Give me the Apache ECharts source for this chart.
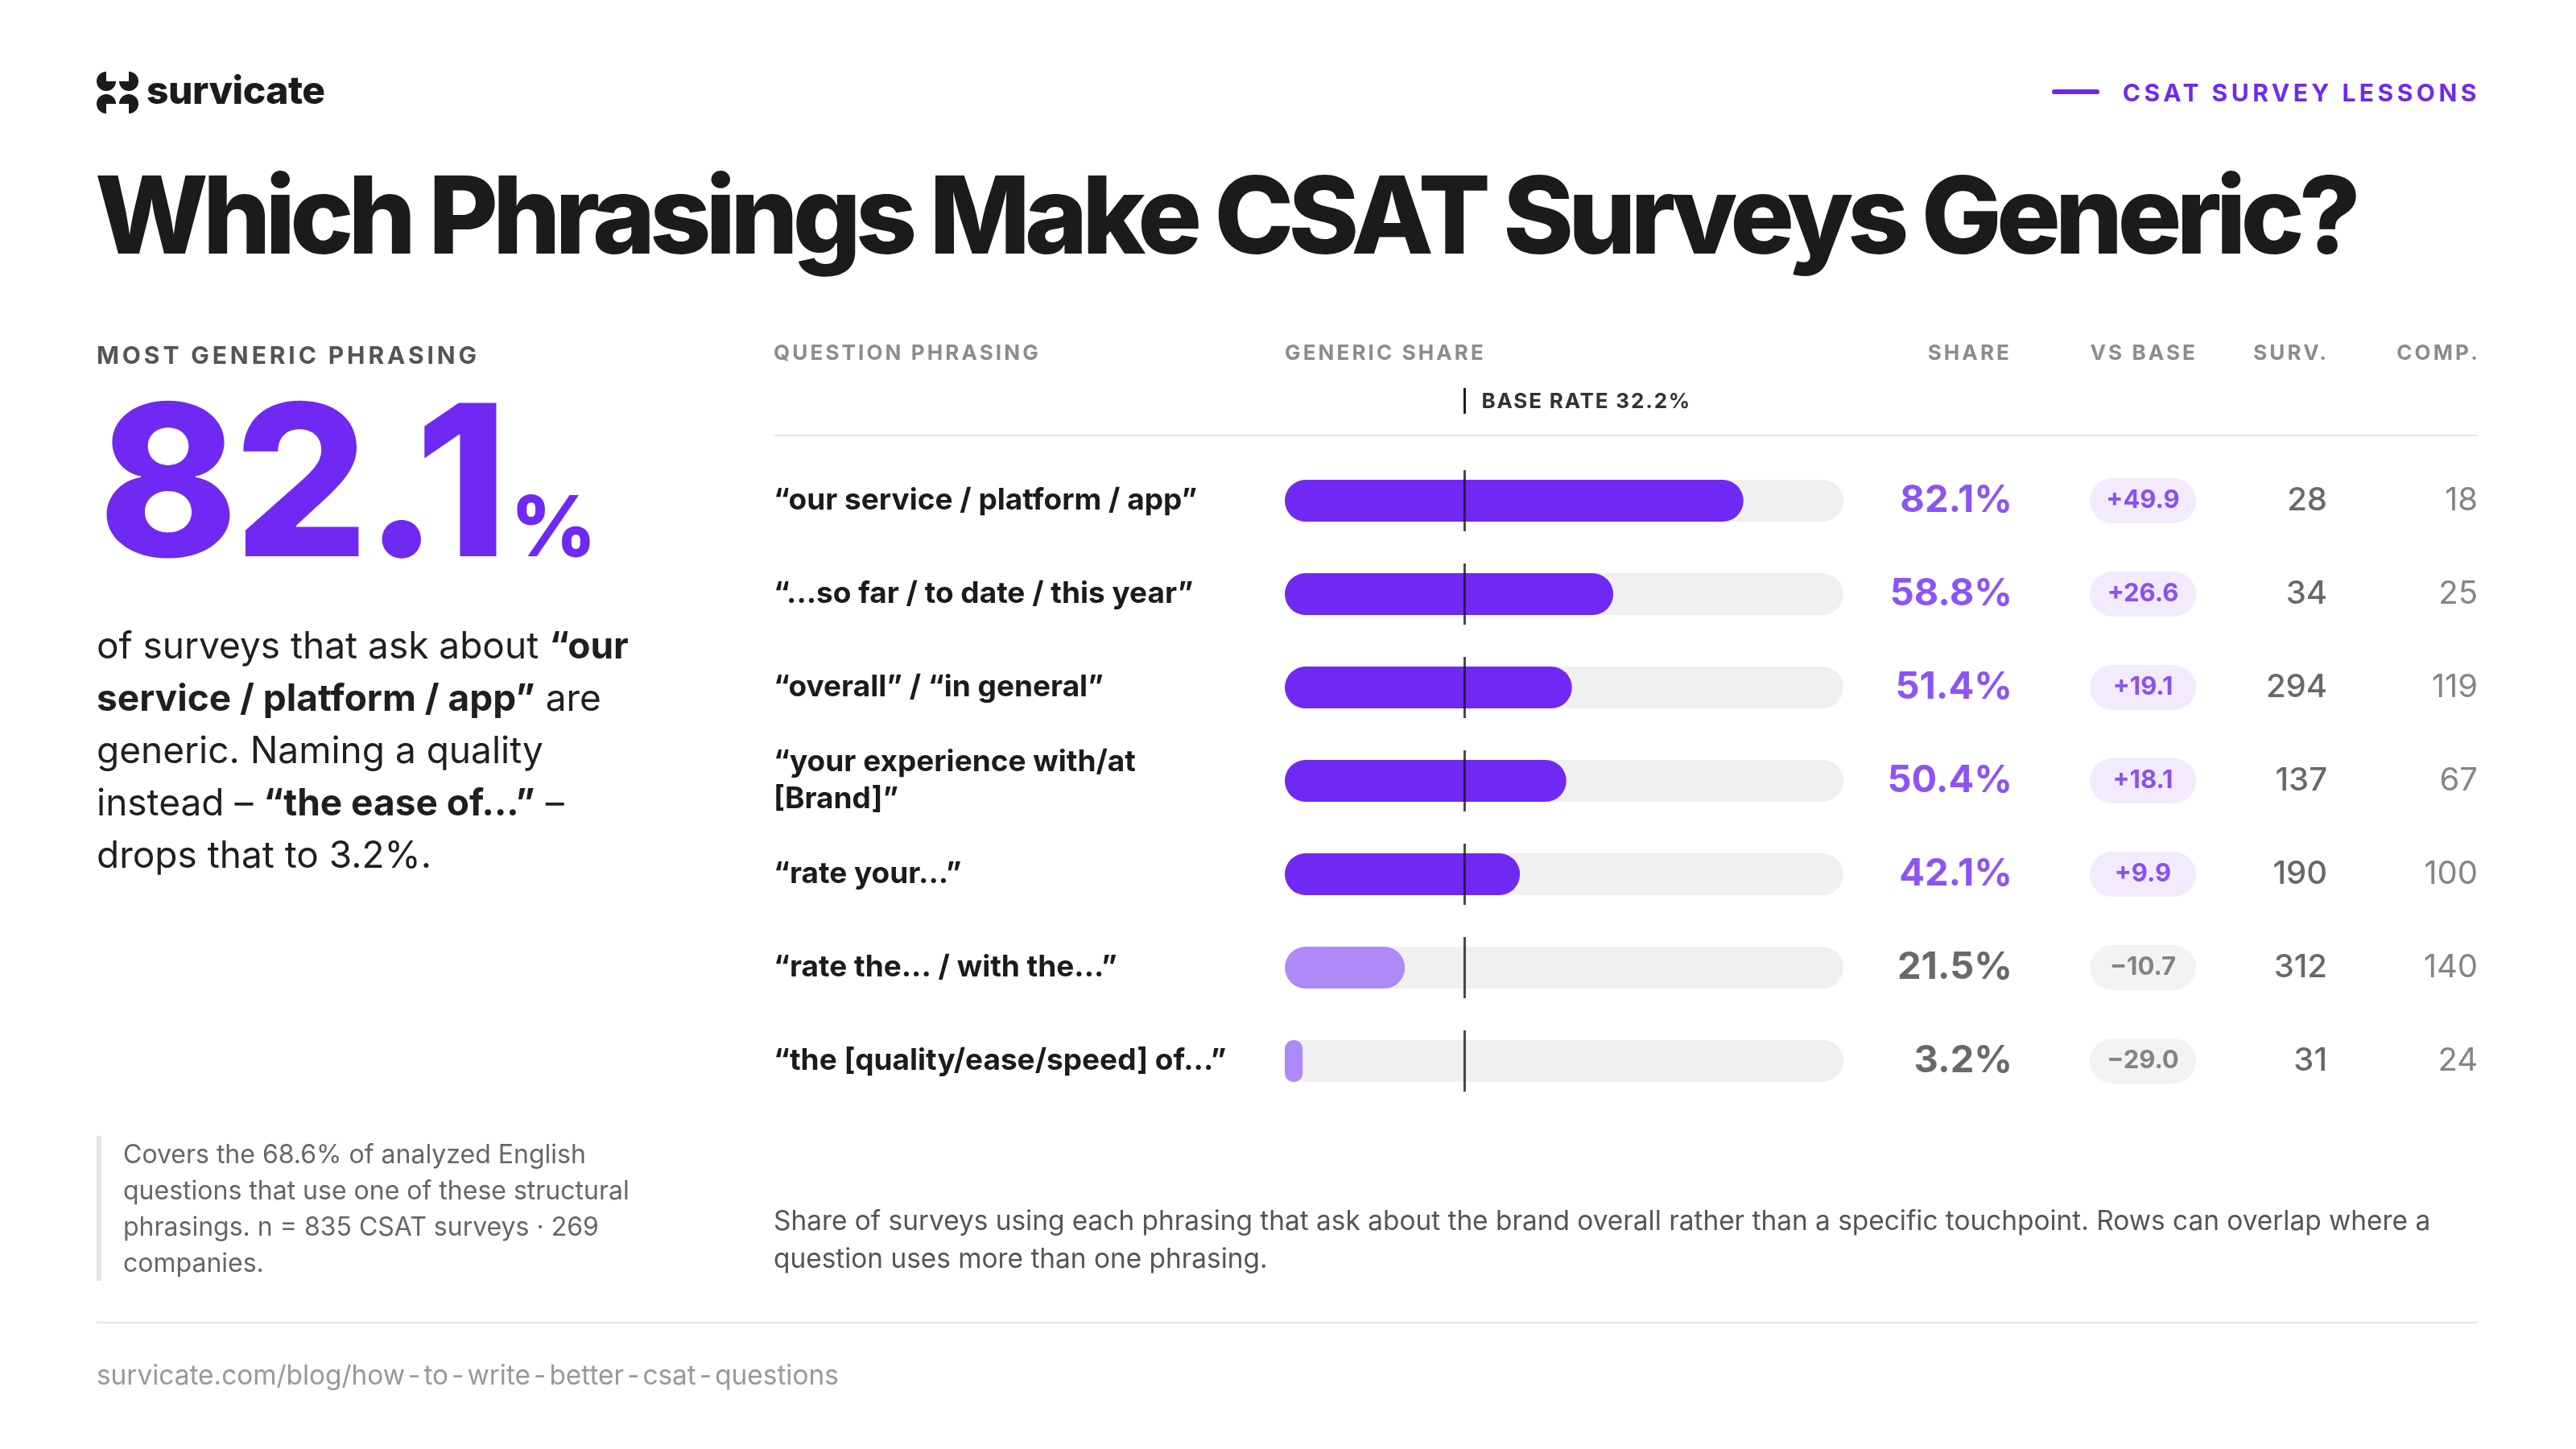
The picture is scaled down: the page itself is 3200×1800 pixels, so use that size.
<!DOCTYPE html>
<html lang="en">
<head>
    <meta charset="UTF-8">
    <title>Which Phrasings Make CSAT Surveys Generic?</title>
    <script src="https://cdn.jsdelivr.net/npm/echarts@6/dist/echarts.min.js"></script>
    <style>
        html, body { margin: 0; padding: 0; background: #fff; }
        body { width: 3200px; height: 1800px; position: relative; overflow: hidden; font-family: Inter, "Noto Sans", sans-serif; }
        #main { position: absolute; left: 0; top: 0; width: 3200px; height: 1800px; }
        .t { position: absolute; line-height: 1; white-space: nowrap; z-index: 2; }
        .caps { font-weight: 700; text-transform: uppercase; }
        .rule { position: absolute; background: #e6e6e6; z-index: 2; }
        .hy { margin: 0 4px; }
    </style>
</head>
<body>

<div id="main"></div>

<!-- header -->
<svg class="t" style="left:120px;top:89px;" width="52" height="52" viewBox="0 0 52 52">
    <path d="M12,12 L12,0 A12,12 0 1 0 24,12 Z" fill="#1a1c1a"/>
    <path d="M40,12 L28,12 A12,12 0 1 0 40,0 Z" fill="#1a1c1a"/>
    <path d="M12,40 L24,40 A12,12 0 1 0 12,52 Z" fill="#1a1c1a"/>
    <path d="M40,40 L40,52 A12,12 0 1 0 28,40 Z" fill="#1a1c1a"/>
</svg>
<div class="t" style="left:182px;top:88px;font-size:48px;font-weight:800;color:#1a1c1a;letter-spacing:-0.01em;">survicate</div>

<div class="rule" style="left:2549px;top:111px;width:59px;height:6px;border-radius:3px;background:#7029F2;"></div>
<div class="t caps" style="right:123px;top:100px;font-size:30px;color:#7029F2;letter-spacing:0.15em;margin-right:-4px;">CSAT Survey Lessons</div>

<div class="t" style="left:118px;top:200px;font-size:133px;font-weight:800;color:#1a1c1a;letter-spacing:-0.052em;">Which Phrasings Make CSAT Surveys Generic?</div>

<!-- left panel -->
<div class="t caps" style="left:120px;top:426px;font-size:30px;color:#555;letter-spacing:0.13em;">Most generic phrasing</div>
<div class="t" style="left:122px;top:465px;font-size:262px;font-weight:800;color:#7029F2;letter-spacing:-0.02em;">82.1<span style="font-size:104px;letter-spacing:0;margin-left:8px;">%</span></div>

<div class="t" style="left:120px;top:769px;font-size:46px;line-height:65px;color:#1f1f1f;white-space:normal;width:720px;">
    of surveys that ask about <b>“our<br>service / platform / app”</b> are<br>generic. Naming a quality<br>instead – <b>“the ease of...”</b> –<br>drops that to 3.2%.
</div>

<div class="t" style="left:120px;top:1411px;border-left:6px solid #e4e4e4;padding-left:27px;font-size:32px;line-height:45px;color:#666;white-space:normal;">
    Covers the 68.6% of analyzed English<br>questions that use one of these structural<br>phrasings. n = 835 CSAT surveys · 269<br>companies.
</div>

<!-- table headers -->
<div class="t caps" style="left:961px;top:425px;font-size:26px;color:#8c8c8c;letter-spacing:0.12em;">Question phrasing</div>
<div class="t caps" style="left:1596px;top:425px;font-size:26px;color:#8c8c8c;letter-spacing:0.12em;">Generic share</div>
<div class="t caps" style="right:704px;top:425px;font-size:26px;color:#8c8c8c;letter-spacing:0.12em;margin-right:-3px;">Share</div>
<div class="t caps" style="right:473px;top:425px;font-size:26px;color:#8c8c8c;letter-spacing:0.12em;margin-right:-3px;">vs base</div>
<div class="t caps" style="right:310px;top:425px;font-size:26px;color:#8c8c8c;letter-spacing:0.12em;margin-right:-3px;">Surv.</div>
<div class="t caps" style="right:122px;top:425px;font-size:26px;color:#8c8c8c;letter-spacing:0.12em;margin-right:-3px;">Comp.</div>

<div id="baseTick" class="rule" style="left:1819px;top:482px;width:3px;height:32px;background:#1a1a1a;"></div>
<div id="baseLabel" class="t caps" style="left:1841px;top:485px;font-size:26px;color:#333;letter-spacing:0.07em;">Base rate 32.2%</div>

<div class="rule" style="left:961px;top:540px;width:2116px;height:2px;"></div>

<!-- footer -->
<div class="t" style="left:961px;top:1493px;font-size:33.4px;line-height:47px;color:#555;">
    Share of surveys using each phrasing that ask about the brand overall rather than a specific touchpoint. Rows can overlap where a<br>question uses more than one phrasing.
</div>
<div class="rule" style="left:120px;top:1642px;width:2957px;height:2px;"></div>
<div class="t" style="left:120px;top:1692px;font-size:33.4px;color:#999;">survicate.com/blog/how<span class="hy">-</span>to<span class="hy">-</span>write<span class="hy">-</span>better<span class="hy">-</span>csat<span class="hy">-</span>questions</div>

<script>
    // data
    const phrasings = [
        '“our service / platform / app”',
        '“...so far / to date / this year”',
        '“overall” / “in general”',
        '“your experience with/at [Brand]”',
        '“rate your...”',
        '“rate the... / with the...”',
        '“the [quality/ease/speed] of...”'
    ];
    const shares = [82.1, 58.8, 51.4, 50.4, 42.1, 21.5, 3.2];
    const vsBase = [49.9, 26.6, 19.1, 18.1, 9.9, -10.7, -29.0];
    const surveys = [28, 34, 294, 137, 190, 312, 31];
    const companies = [18, 25, 119, 67, 100, 140, 24];
    const baseRate = 32.2;

    const PURPLE = '#7029F2';
    const LILAC = '#AE8AF9';
    const ROW_TOP = 564, ROW_H = 812;
    const LABEL_FONT = '700 37px Inter';
    const LABEL_MAX = 585;

    // word wrap for the phrasing column, measured with the label font
    const ctx = document.createElement('canvas').getContext('2d');
    ctx.font = LABEL_FONT;
    function wrapLabel(text) {
        let words = text.split(' '), lines = [], cur = '';
        words.forEach(w => {
            let next = cur ? cur + ' ' + w : w;
            if (cur && ctx.measureText(next).width > LABEL_MAX) {
                lines.push(cur);
                cur = w;
            } else {
                cur = next;
            }
        });
        lines.push(cur);
        return lines.join('\n');
    }

    // one grid per table column, all sharing the same row bands
    const cols = [
        {left: 1596, width: 694},  // bars
        {left: 2300, width: 200},  // share
        {left: 2596, width: 132},  // vs base
        {left: 2741, width: 150},  // surveys
        {left: 2928, width: 150}   // companies
    ];
    const grids = cols.map(c => ({left: c.left, width: c.width, top: ROW_TOP, height: ROW_H}));
    const xAxes = cols.map((c, k) => ({
        gridIndex: k, type: 'value', show: false,
        min: 0, max: k === 0 ? 100 : 1
    }));
    const yAxes = cols.map((c, k) => ({
        gridIndex: k, type: 'category', data: phrasings, inverse: true,
        show: k === 0,
        axisLine: {show: false},
        axisTick: {show: false},
        splitLine: {show: false},
        axisLabel: {
            show: k === 0,
            align: 'left',
            margin: 635,
            fontFamily: 'Inter',
            fontSize: 37,
            fontWeight: 700,
            lineHeight: 46,
            color: '#1a1c1a',
            formatter: wrapLabel
        }
    }));

    const rowIdx = phrasings.map((p, i) => i);

    let myChart = echarts.init(document.getElementById('main'));
    let option = {
        animation: false,
        textStyle: {fontFamily: 'Inter'},
        grid: grids,
        xAxis: xAxes,
        yAxis: yAxes,
        series: [
            {
                type: 'bar',
                xAxisIndex: 0, yAxisIndex: 0,
                barWidth: 52,
                showBackground: true,
                backgroundStyle: {color: '#F0F0F0', borderRadius: 26},
                itemStyle: {borderRadius: 26},
                data: shares.map(v => ({value: v, itemStyle: {color: v >= baseRate ? PURPLE : LILAC}})),
                z: 2
            },
            {
                // base rate marker on every row
                type: 'scatter',
                xAxisIndex: 0, yAxisIndex: 0,
                symbol: 'rect',
                symbolSize: [3, 76],
                itemStyle: {color: '#1a1a1a'},
                data: rowIdx.map(i => [baseRate, i]),
                z: 5
            },
            {
                type: 'scatter',
                xAxisIndex: 1, yAxisIndex: 1,
                symbolSize: 0,
                data: shares.map((v, i) => ({
                    value: [1, i],
                    label: {color: v >= baseRate ? PURPLE : '#444'}
                })),
                label: {
                    show: true, position: 'left', distance: 0,
                    fontSize: 47, fontWeight: 700,
                    formatter: p => shares[p.dataIndex].toFixed(1) + '%'
                }
            },
            {
                type: 'scatter',
                xAxisIndex: 2, yAxisIndex: 2,
                symbol: 'path://M28,0 H104 A28,28 0 0 1 104,56 H28 A28,28 0 0 1 28,0 Z',
                symbolSize: [132, 56],
                data: vsBase.map((d, i) => ({
                    value: [0.5, i],
                    itemStyle: {color: d > 0 ? '#EEE6FD' : '#F0F0F0'},
                    label: {color: d > 0 ? PURPLE : '#666'}
                })),
                label: {
                    show: true, position: 'inside',
                    fontSize: 31, fontWeight: 700,
                    formatter: p => {
                        let d = vsBase[p.dataIndex];
                        return (d > 0 ? '+' : '\u2212') + Math.abs(d).toFixed(1);
                    }
                }
            },
            {
                type: 'scatter',
                xAxisIndex: 3, yAxisIndex: 3,
                symbolSize: 0,
                data: rowIdx.map(i => [1, i]),
                label: {
                    show: true, position: 'left', distance: 0,
                    fontSize: 40, fontWeight: 500, color: '#444',
                    formatter: p => String(surveys[p.dataIndex])
                }
            },
            {
                type: 'scatter',
                xAxisIndex: 4, yAxisIndex: 4,
                symbolSize: 0,
                data: rowIdx.map(i => [1, i]),
                label: {
                    show: true, position: 'left', distance: 0,
                    fontSize: 40, fontWeight: 400, color: '#666',
                    formatter: p => String(companies[p.dataIndex])
                }
            }
        ]
    };
    myChart.setOption(option);

    // keep the header base-rate tick on the same scale as the bars
    let bx = myChart.convertToPixel({xAxisIndex: 0}, baseRate);
    document.getElementById('baseTick').style.left = (bx - 1.5) + 'px';
    document.getElementById('baseLabel').style.left = (bx + 21) + 'px';
</script>
</body>
</html>
